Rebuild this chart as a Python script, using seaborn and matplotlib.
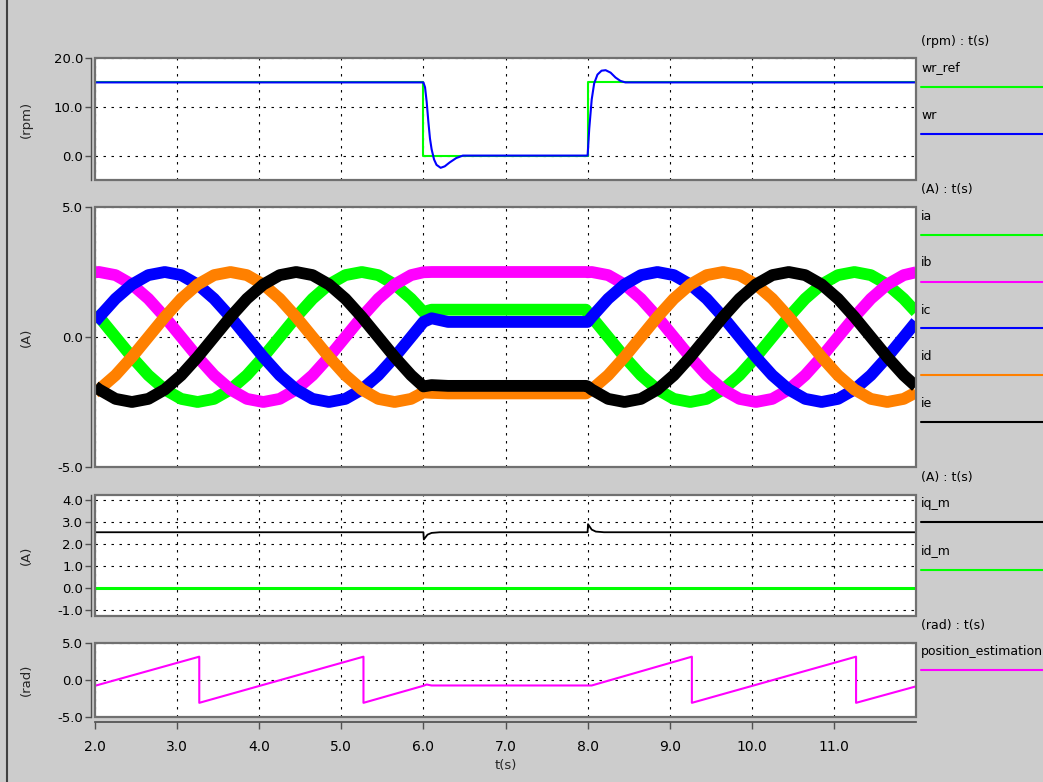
import matplotlib
matplotlib.use("Agg")
import matplotlib.pyplot as plt
from matplotlib.lines import Line2D
from matplotlib.patches import Rectangle
from matplotlib.ticker import FormatStrFormatter
import pandas as pd
import seaborn as sns

# ---- speed (rpm) ----
t_wr_ref = [2.0, 6.0, 6.0, 8.0, 8.0, 12.0]
wr_ref = [15.0, 15.0, 0.0, 0.0, 15.0, 15.0]
t_wr = [2.0, 6.0, 6.02, 6.04, 6.06, 6.08, 6.1, 6.13, 6.16, 6.21, 6.26, 6.32, 6.4, 6.48,
        8.0, 8.02, 8.05, 8.08, 8.12, 8.17, 8.22, 8.28, 8.34, 8.4, 8.46, 12.0]
wr = [15.0, 15.0, 14.0, 11.0, 7.0, 3.5, 1.3, -0.8, -1.9, -2.5, -2.2, -1.4, -0.5, 0.0,
      0.0, 5.5, 11.5, 14.8, 16.6, 17.4, 17.5, 17.0, 16.0, 15.3, 15.0, 15.0]

# ---- phase currents (A) ----
# running 2..6 s, held 6..8 s, running again 8..12 s (second run repeats the first)
t_run1 = [2.0, 2.05, 2.25, 2.45, 2.65, 2.85, 3.05, 3.25, 3.45, 3.65, 3.85,
          4.05, 4.25, 4.45, 4.65, 4.85, 5.05, 5.25, 5.45, 5.65, 5.85, 6.0]
t_hold = [6.1, 6.3, 7.98]
t_run2 = [8.0, 8.05, 8.25, 8.45, 8.65, 8.85, 9.05, 9.25, 9.45, 9.65, 9.85,
          10.05, 10.25, 10.45, 10.65, 10.85, 11.05, 11.25, 11.45, 11.65, 11.85, 12.0]

ia_run = [0.96, 0.77, 0.00, -0.77, -1.47, -2.02, -2.38, -2.50, -2.38, -2.02, -1.47,
          -0.77, 0.00, 0.77, 1.47, 2.02, 2.38, 2.50, 2.38, 2.02, 1.47, 0.96]
ib_run = [2.49, 2.50, 2.38, 2.02, 1.47, 0.77, 0.00, -0.77, -1.47, -2.02, -2.38,
          -2.50, -2.38, -2.02, -1.47, -0.77, 0.00, 0.77, 1.47, 2.02, 2.38, 2.49]
ic_run = [0.58, 0.77, 1.47, 2.02, 2.38, 2.50, 2.38, 2.02, 1.47, 0.77, 0.00,
          -0.77, -1.47, -2.02, -2.38, -2.50, -2.38, -2.02, -1.47, -0.77, 0.00, 0.58]
id_run = [-2.13, -2.02, -1.47, -0.77, 0.00, 0.77, 1.47, 2.02, 2.38, 2.50, 2.38,
          2.02, 1.47, 0.77, 0.00, -0.77, -1.47, -2.02, -2.38, -2.50, -2.38, -2.13]
ie_run = [-1.90, -2.02, -2.38, -2.50, -2.38, -2.02, -1.47, -0.77, 0.00, 0.77, 1.47,
          2.02, 2.38, 2.50, 2.38, 2.02, 1.47, 0.77, 0.00, -0.77, -1.47, -1.90]

ia_hold = [1.05, 1.05, 1.05]
ib_hold = [2.50, 2.50, 2.50]
ic_hold = [0.72, 0.58, 0.58]
id_hold = [-2.15, -2.17, -2.17]
ie_hold = [-1.85, -1.88, -1.88]

# ---- dq currents (A) ----
t_iq = [2.0, 6.0, 6.005, 6.05, 6.1, 6.2, 8.0, 8.005, 8.05, 8.1, 8.2, 12.0]
iq_m = [2.53, 2.53, 2.2, 2.42, 2.5, 2.53, 2.53, 2.9, 2.65, 2.56, 2.53, 2.53]
t_id = [2.0, 12.0]
id_m = [0.0, 0.0]

# ---- estimated position (rad) ----
t_pos = [2.0, 3.27, 3.27, 5.27, 5.27, 6.0, 6.04, 6.1, 8.05, 9.27, 9.27, 11.27, 11.27, 12.0]
pos = [-0.82, 3.14, -3.14, 3.14, -3.14, -0.82, -0.65, -0.78, -0.78, 3.14, -3.14, 3.14, -3.14, -0.9]

GREEN, MAGENTA, BLUE, ORANGE, BLACK = "#00ff00", "#ff00ff", "#0000ff", "#ff8000", "#000000"

sns.set_theme(style="white")
plt.rcParams["font.family"] = ["DejaVu Sans"]

W, H = 1043, 782
fig = plt.figure(figsize=(W / 100, H / 100), dpi=100)
fig.patch.set_facecolor("#cccccc")


def box(top, bottom):
    # pixel box -> figure fraction
    return [95 / W, 1 - bottom / H, (916 - 95) / W, (bottom - top) / H]


def style_axes(ax, ylim, yticks, last=False):
    ax.set_facecolor("white")
    ax.set_xlim(2.0, 12.0)
    ax.set_ylim(*ylim)
    ax.set_yticks(yticks)
    ax.yaxis.set_major_formatter(FormatStrFormatter("%.1f"))
    ax.set_xticks([2, 3, 4, 5, 6, 7, 8, 9, 10, 11])
    ax.xaxis.set_major_formatter(FormatStrFormatter("%.1f"))
    ax.grid(True, color="black", linestyle=(0, (2.2, 5)), linewidth=0.8)
    ax.set_axisbelow(True)
    for s in ax.spines.values():
        s.set_visible(False)
    ax.spines["left"].set_visible(True)
    ax.spines["left"].set_position(("outward", 3))
    ax.spines["left"].set_color("#505050")
    ax.spines["left"].set_linewidth(1.0)
    ax.tick_params(axis="y", left=True, length=4, width=1, color="#505050",
                   labelsize=9.5, pad=1.5, labelcolor="black")
    if last:
        ax.spines["bottom"].set_visible(True)
        ax.spines["bottom"].set_position(("outward", 3.6))
        ax.spines["bottom"].set_color("#505050")
        ax.tick_params(axis="x", bottom=True, length=5, width=1, color="#505050",
                       labelsize=10, pad=8, labelcolor="black")
    else:
        ax.tick_params(axis="x", bottom=False, labelbottom=False)
    ax.set_xlabel("")
    ax.set_ylabel("")
    ax.add_patch(Rectangle((0, 0), 1, 1, transform=ax.transAxes, fill=False,
                           ec="#707070", lw=1.6, clip_on=False, zorder=10))


def draw(ax, t, y, color, lw):
    sns.lineplot(x=t, y=y, ax=ax, color=color, linewidth=lw, estimator=None,
                 sort=False, legend=False, solid_joinstyle="round", solid_capstyle="butt")


# panel 1: speed
ax1 = fig.add_axes(box(58, 180))
draw(ax1, t_wr_ref, wr_ref, GREEN, 1.5)
draw(ax1, t_wr, wr, BLUE, 1.5)
style_axes(ax1, (-5, 20), [0, 10, 20])

# panel 2: phase currents
ax2 = fig.add_axes(box(207, 467))
phases = [("ia", ia_run, ia_hold, GREEN), ("ib", ib_run, ib_hold, MAGENTA),
          ("ic", ic_run, ic_hold, BLUE), ("id", id_run, id_hold, ORANGE),
          ("ie", ie_run, ie_hold, BLACK)]
t_all = t_run1 + t_hold + t_run2
for name, run, hold, col in phases:
    df = pd.DataFrame({"t": t_all, "i": run + hold + run})
    draw(ax2, df["t"], df["i"], col, 8.5)
style_axes(ax2, (-5, 5), [-5, 0, 5])

# panel 3: iq / id
ax3 = fig.add_axes(box(495, 615.5))
draw(ax3, t_id, id_m, GREEN, 2.2)
draw(ax3, t_iq, iq_m, BLACK, 1.3)
style_axes(ax3, (-1.27, 4.23), [-1, 0, 1, 2, 3, 4])

# panel 4: position
ax4 = fig.add_axes(box(643, 716.5))
draw(ax4, t_pos, pos, MAGENTA, 1.5)
style_axes(ax4, (-5, 5), [-5, 0, 5], last=True)

fig.text(505.5 / W, 1 - 766 / H, "t(s)", ha="center", va="center", fontsize=9.5)

# unit labels on the left
for txt, yc in [("(rpm)", 119), ("(A)", 337), ("(A)", 555), ("(rad)", 680)]:
    fig.text(26 / W, 1 - yc / H, txt, rotation=90, ha="center", va="center", fontsize=9.5)

# legend column on the right
legend = [
    ("(rpm) : t(s)", 41, None, None),
    ("wr_ref", 68, 87, GREEN), ("wr", 115.5, 133.5, BLUE),
    ("(A) : t(s)", 189, None, None),
    ("ia", 216, 235, GREEN), ("ib", 263, 281.5, MAGENTA), ("ic", 310, 327.5, BLUE),
    ("id", 356, 375, ORANGE), ("ie", 403, 421.5, BLACK),
    ("(A) : t(s)", 477, None, None),
    ("iq_m", 504, 522, BLACK), ("id_m", 551, 570, GREEN),
    ("(rad) : t(s)", 625, None, None),
    ("position_estimation", 652, 670, MAGENTA),
]
for txt, ty, ly, col in legend:
    fig.text(921 / W, 1 - ty / H, txt, ha="left", va="center", fontsize=9, color="black")
    if ly is not None:
        fig.add_artist(Line2D([921 / W, 1.0], [1 - ly / H, 1 - ly / H],
                              transform=fig.transFigure, color=col, lw=1.5))

# window border on the left
fig.add_artist(Line2D([6.5 / W, 6.5 / W], [0, 1], transform=fig.transFigure,
                      color="#404040", lw=1.5))

fig.savefig("out.png", dpi=100, facecolor=fig.get_facecolor())
